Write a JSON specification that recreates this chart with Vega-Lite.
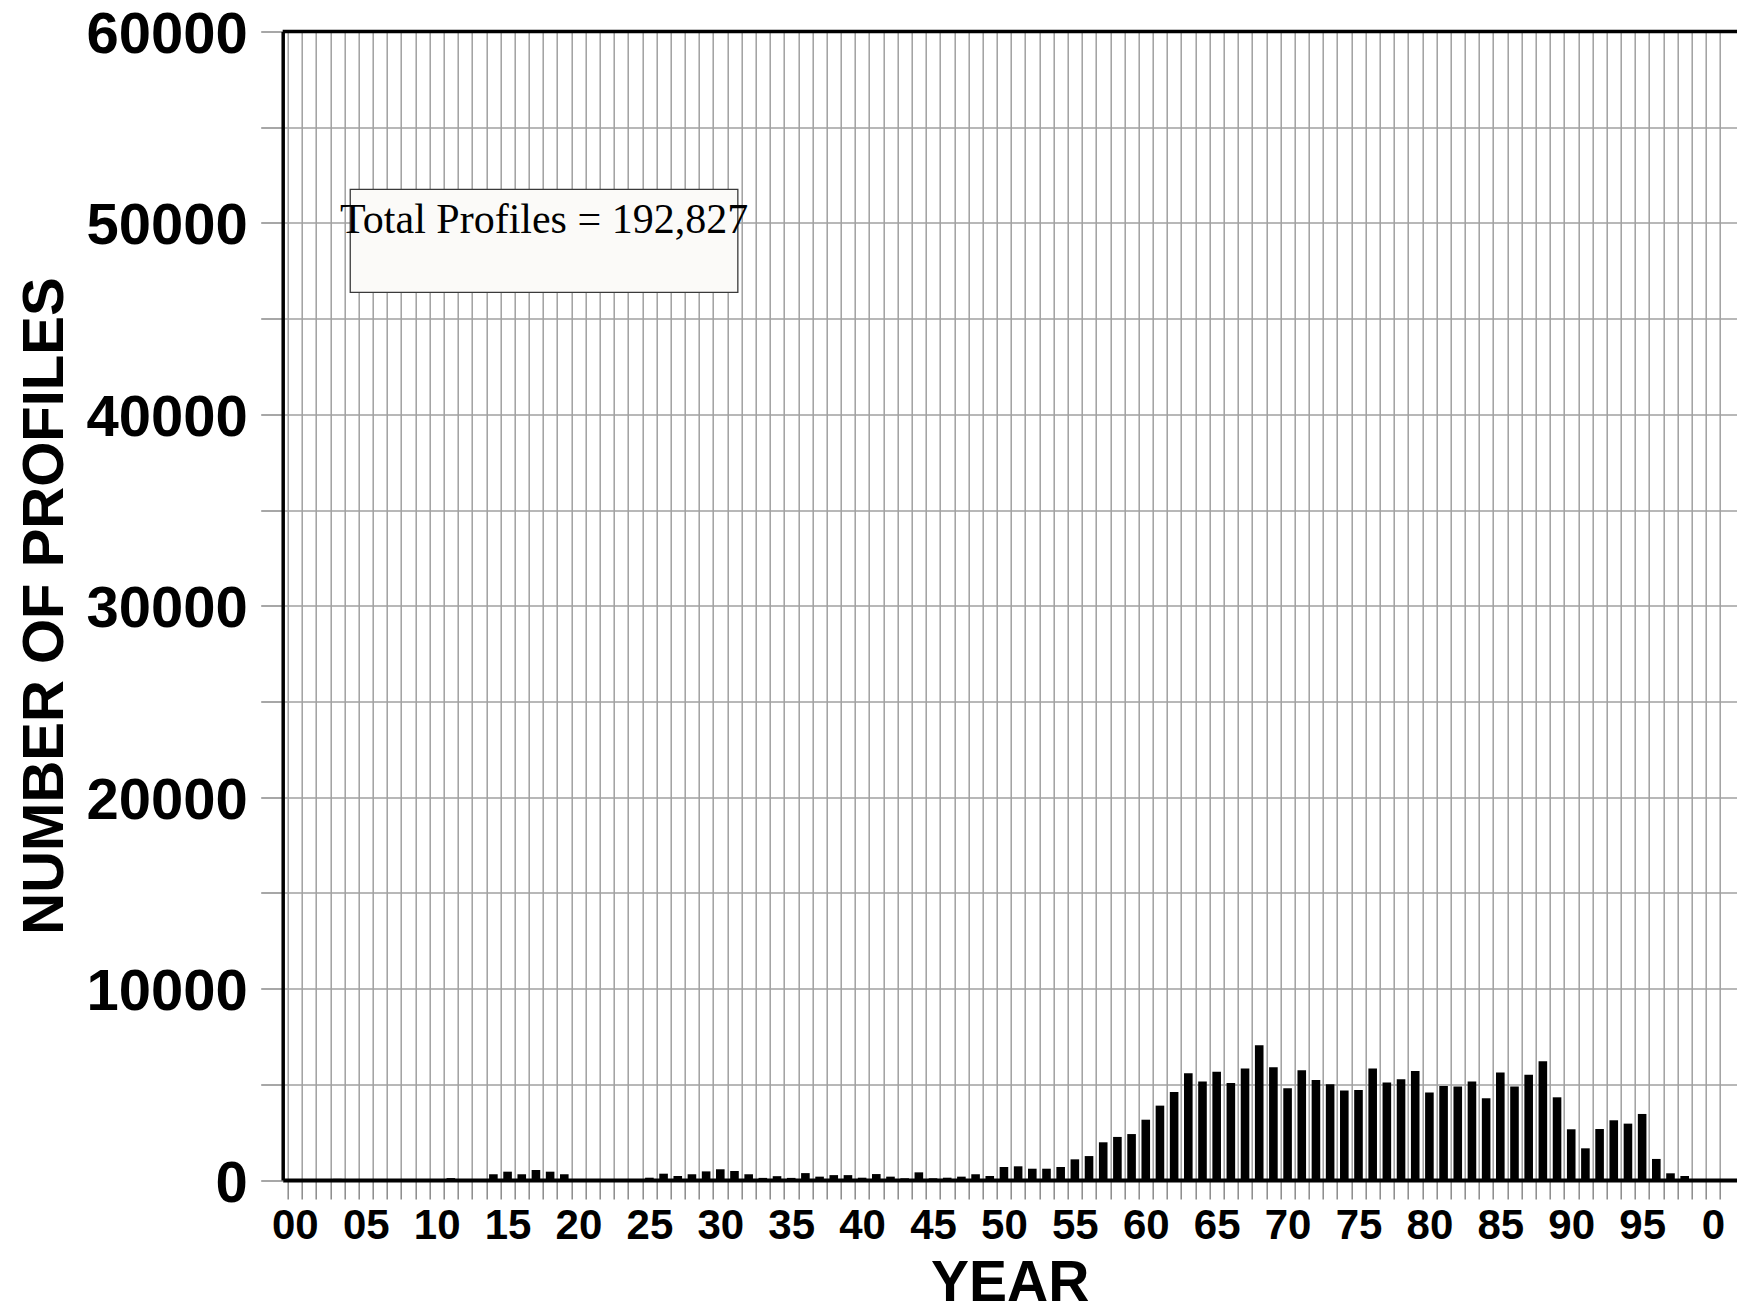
{
  "$schema": "https://vega.github.io/schema/vega-lite/v6.json",
  "autosize": {"type": "none"},
  "padding": {"left": 282.7, "top": 31.5, "right": 0, "bottom": 124},
  "width": 1454.3,
  "height": 1148.5,
  "background": "white",
  "config": {"view": {"stroke": null}},
  "layer": [
    {
      "data": {"values": [
        {"year": 1900, "profiles": 0}, {"year": 1901, "profiles": 0}, {"year": 1902, "profiles": 0},
        {"year": 1903, "profiles": 60}, {"year": 1904, "profiles": 0}, {"year": 1905, "profiles": 0},
        {"year": 1906, "profiles": 0}, {"year": 1907, "profiles": 0}, {"year": 1908, "profiles": 0},
        {"year": 1909, "profiles": 0}, {"year": 1910, "profiles": 0}, {"year": 1911, "profiles": 100},
        {"year": 1912, "profiles": 0}, {"year": 1913, "profiles": 0}, {"year": 1914, "profiles": 300},
        {"year": 1915, "profiles": 435}, {"year": 1916, "profiles": 300}, {"year": 1917, "profiles": 520},
        {"year": 1918, "profiles": 435}, {"year": 1919, "profiles": 300}, {"year": 1920, "profiles": 0},
        {"year": 1921, "profiles": 0}, {"year": 1922, "profiles": 0}, {"year": 1923, "profiles": 0},
        {"year": 1924, "profiles": 0}, {"year": 1925, "profiles": 120}, {"year": 1926, "profiles": 330},
        {"year": 1927, "profiles": 210}, {"year": 1928, "profiles": 300}, {"year": 1929, "profiles": 450},
        {"year": 1930, "profiles": 560}, {"year": 1931, "profiles": 470}, {"year": 1932, "profiles": 300},
        {"year": 1933, "profiles": 110}, {"year": 1934, "profiles": 200}, {"year": 1935, "profiles": 110},
        {"year": 1936, "profiles": 360}, {"year": 1937, "profiles": 175}, {"year": 1938, "profiles": 255},
        {"year": 1939, "profiles": 255}, {"year": 1940, "profiles": 120}, {"year": 1941, "profiles": 310},
        {"year": 1942, "profiles": 175}, {"year": 1943, "profiles": 90}, {"year": 1944, "profiles": 400},
        {"year": 1945, "profiles": 90}, {"year": 1946, "profiles": 120}, {"year": 1947, "profiles": 175},
        {"year": 1948, "profiles": 300}, {"year": 1949, "profiles": 210}, {"year": 1950, "profiles": 680},
        {"year": 1951, "profiles": 715}, {"year": 1952, "profiles": 590}, {"year": 1953, "profiles": 590},
        {"year": 1954, "profiles": 680}, {"year": 1955, "profiles": 1080}, {"year": 1956, "profiles": 1250},
        {"year": 1957, "profiles": 1970}, {"year": 1958, "profiles": 2250}, {"year": 1959, "profiles": 2400},
        {"year": 1960, "profiles": 3150}, {"year": 1961, "profiles": 3885}, {"year": 1962, "profiles": 4600},
        {"year": 1963, "profiles": 5575}, {"year": 1964, "profiles": 5140}, {"year": 1965, "profiles": 5660},
        {"year": 1966, "profiles": 5070}, {"year": 1967, "profiles": 5820}, {"year": 1968, "profiles": 7040},
        {"year": 1969, "profiles": 5890}, {"year": 1970, "profiles": 4790}, {"year": 1971, "profiles": 5730},
        {"year": 1972, "profiles": 5225}, {"year": 1973, "profiles": 5000}, {"year": 1974, "profiles": 4670},
        {"year": 1975, "profiles": 4700}, {"year": 1976, "profiles": 5820}, {"year": 1977, "profiles": 5100},
        {"year": 1978, "profiles": 5260}, {"year": 1979, "profiles": 5700}, {"year": 1980, "profiles": 4565},
        {"year": 1981, "profiles": 4910}, {"year": 1982, "profiles": 4880}, {"year": 1983, "profiles": 5140},
        {"year": 1984, "profiles": 4270}, {"year": 1985, "profiles": 5610}, {"year": 1986, "profiles": 4880},
        {"year": 1987, "profiles": 5505}, {"year": 1988, "profiles": 6200}, {"year": 1989, "profiles": 4320},
        {"year": 1990, "profiles": 2650}, {"year": 1991, "profiles": 1655}, {"year": 1992, "profiles": 2665},
        {"year": 1993, "profiles": 3120}, {"year": 1994, "profiles": 2945}, {"year": 1995, "profiles": 3450},
        {"year": 1996, "profiles": 1100}, {"year": 1997, "profiles": 350}, {"year": 1998, "profiles": 210},
        {"year": 1999, "profiles": 0}, {"year": 2000, "profiles": 0}
      ]},
      "mark": {"type": "bar", "color": "black", "size": 8.6, "xOffset": 7.14},
      "encoding": {
        "x": {
          "field": "year", "type": "quantitative",
          "scale": {"domain": [1900, 2001.84], "nice": false, "zero": false},
          "axis": {
            "title": "YEAR",
            "tickCount": 500,
            "values": [1900,1901,1902,1903,1904,1905,1906,1907,1908,1909,1910,1911,1912,1913,1914,1915,1916,1917,1918,1919,1920,1921,1922,1923,1924,1925,1926,1927,1928,1929,1930,1931,1932,1933,1934,1935,1936,1937,1938,1939,1940,1941,1942,1943,1944,1945,1946,1947,1948,1949,1950,1951,1952,1953,1954,1955,1956,1957,1958,1959,1960,1961,1962,1963,1964,1965,1966,1967,1968,1969,1970,1971,1972,1973,1974,1975,1976,1977,1978,1979,1980,1981,1982,1983,1984,1985,1986,1987,1988,1989,1990,1991,1992,1993,1994,1995,1996,1997,1998,1999,2000,2001],
            "labelExpr": "datum.value % 5 === 0 ? (datum.value === 2000 ? '0' : (datum.value % 100 < 10 ? '0' + (datum.value % 100) : '' + (datum.value % 100))) : ''",
            "labelOffset": 7.14,
            "labelFlush": false,
            "labelOverlap": false,
            "labelBound": false,
            "labelPadding": 6,
            "labelFont": "Liberation Sans",
            "labelFontWeight": "bold",
            "labelFontSize": 42,
            "labelColor": "black",
            "tickSize": 19,
            "tickColor": "#8a8a8a",
            "tickWidth": 1.5,
            "domainColor": "black",
            "domainWidth": 4,
            "gridColor": "#a0a0a0",
            "gridWidth": 1.5,
            "titleFont": "Liberation Sans",
            "titleFontWeight": "bold",
            "titleFontSize": 57,
            "titleColor": "black",
            "titleX": 727,
            "titleY": 103,
            "titleBaseline": "middle",
            "titleAlign": "center"
          }
        },
        "y": {
          "field": "profiles", "type": "quantitative",
          "scale": {"domain": [0, 60000], "nice": false},
          "axis": {
            "title": "NUMBER OF PROFILES",
            "tickCount": 100,
            "values": [0,5000,10000,15000,20000,25000,30000,35000,40000,45000,50000,55000,60000],
            "labelExpr": "datum.value % 10000 === 0 ? '' + datum.value : ''",
            "labelOverlap": false,
            "labelBound": false,
            "labelFlush": false,
            "labelPadding": 13.5,
            "labelOffset": 4,
            "labelFont": "Liberation Sans",
            "labelFontWeight": "bold",
            "labelFontSize": 58,
            "labelColor": "black",
            "tickSize": 22,
            "tickColor": "#8a8a8a",
            "tickWidth": 1.5,
            "domainColor": "black",
            "domainWidth": 3.5,
            "gridColor": "#a0a0a0",
            "gridWidth": 1.5,
            "titleFont": "Liberation Sans",
            "titleFontWeight": "bold",
            "titleFontSize": 58,
            "titleColor": "black",
            "titleX": -237,
            "titleY": 574,
            "titleAngle": -90,
            "titleBaseline": "middle",
            "titleAlign": "center"
          }
        }
      }
    },
    {
      "data": {"values": [{}]},
      "mark": {"type": "rule", "color": "black", "strokeWidth": 3.5},
      "encoding": {"y": {"datum": 60000}}
    },
    {
      "data": {"values": [{}]},
      "mark": {"type": "rect", "fill": "#fbfaf8", "stroke": "#3a3a3a", "strokeWidth": 1.3},
      "encoding": {
        "x": {"datum": 1904.41},
        "x2": {"datum": 1931.74},
        "y": {"datum": 51755},
        "y2": {"datum": 46375}
      }
    },
    {
      "data": {"values": [{}]},
      "mark": {"type": "text", "font": "Liberation Serif", "fontSize": 42, "align": "center", "baseline": "alphabetic", "color": "black"},
      "encoding": {
        "x": {"datum": 1918.08},
        "y": {"datum": 49490},
        "text": {"value": "Total Profiles = 192,827"}
      }
    }
  ]
}
